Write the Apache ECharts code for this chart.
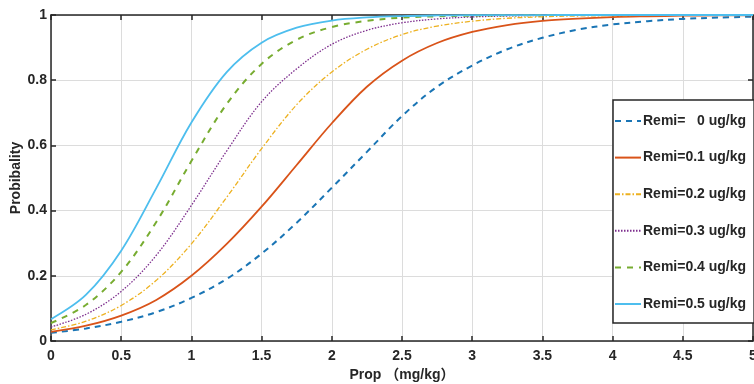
<!DOCTYPE html>
<html>
<head>
<meta charset="utf-8">
<script src="https://cdn.jsdelivr.net/npm/echarts@6/dist/echarts.min.js"></script>
<style>
html,body{margin:0;padding:0;background:#fff;}
#chart{width:754px;height:384px;}
</style>
</head>
<body>
<div id="chart"></div>
<script>
// ---- data ----
var propValues = [0,0.25,0.5,0.75,1,1.25,1.5,1.75,2,2.25,2.5,2.75,3,3.25,3.5,3.75,4,4.25,4.5,4.75,5];
var seriesNames = ['Remi=   0 ug/kg','Remi=0.1 ug/kg','Remi=0.2 ug/kg','Remi=0.3 ug/kg','Remi=0.4 ug/kg','Remi=0.5 ug/kg'];
var remi00 = [0.025,0.0385,0.059,0.0885,0.132,0.190,0.268,0.363,0.470,0.580,0.690,0.780,0.845,0.895,0.930,0.955,0.971,0.981,0.988,0.992,0.995];
var remi01 = [0.028,0.047,0.078,0.126,0.200,0.297,0.412,0.540,0.668,0.780,0.860,0.914,0.948,0.969,0.982,0.989,0.9936,0.996,0.9978,0.9988,0.9993];
var remi02 = [0.034,0.061,0.109,0.186,0.298,0.440,0.590,0.725,0.825,0.895,0.940,0.966,0.981,0.990,0.9945,0.997,0.998,0.999,0.9995,0.9997,0.9998];
var remi03 = [0.043,0.082,0.152,0.263,0.416,0.582,0.734,0.835,0.910,0.953,0.976,0.988,0.994,0.997,0.9986,0.9993,0.9997,0.9998,0.9999,1,1];
var remi04 = [0.055,0.111,0.212,0.365,0.552,0.726,0.850,0.924,0.963,0.982,0.992,0.996,0.998,0.999,0.9996,0.9998,0.9999,1,1,1,1];
var remi05 = [0.067,0.142,0.277,0.469,0.670,0.824,0.915,0.961,0.983,0.9925,0.9967,0.9986,0.9994,0.9997,0.9999,1,1,1,1,1,1];
var xTicks = {min:0, max:5, interval:0.5};
var yTicks = {min:0, max:1, interval:0.2};
var xName = 'Prop （mg/kg）';
var yName = 'Probibality';

// ---- styles ----
var allData = [remi00, remi01, remi02, remi03, remi04, remi05];
var colors = ['#1a75b5','#D95319','#EDB120','#7E2F8E','#77AC30','#4DBEEE'];
var lineTypes = [[6,5],'solid',[5,2,1.5,2],[1.5,1.5],[6,6],'solid'];
var lineWidths = [2,1.8,1.3,1.3,2,1.8];

function pairs(arr){ return propValues.map(function(x,i){ return [x, arr[i]]; }); }

var font = 'Arial, "Liberation Sans", "Noto Sans CJK SC", sans-serif';
var axisColor = '#262626';

var series = allData.map(function(d, i){
  return {
    name: seriesNames[i],
    type: 'line',
    data: pairs(d),
    smooth: 0.35,
    showSymbol: false,
    symbol: 'none',
    color: colors[i],
    lineStyle: {color: colors[i], width: lineWidths[i], type: lineTypes[i]},
    z: 3 + i
  };
});

var chart = echarts.init(document.getElementById('chart'), null, {renderer:'canvas'});
chart.setOption({
  animation: false,
  backgroundColor: '#ffffff',
  grid: {left: 51, right: 1, top: 15, bottom: 43, containLabel: false, outerBoundsMode: 'none'},
  legend: {
    orient: 'vertical',
    left: 613,
    top: 100,
    data: seriesNames,
    itemWidth: 26,
    itemHeight: 14,
    itemGap: 22.6,
    padding: [14, 8, 12, 1],
    borderColor: axisColor,
    borderWidth: 1.5,
    backgroundColor: '#ffffff',
    itemStyle: {opacity: 0},
    textStyle: {fontFamily: font, fontWeight: 'bold', fontSize: 14, color: axisColor, padding: [0,0,0,-3]},
    z: 10
  },
  xAxis: [{
    type: 'value',
    min: xTicks.min, max: xTicks.max, interval: xTicks.interval,
    name: xName, nameLocation: 'middle', nameGap: 27, nameMoveOverlap: false,
    nameTextStyle: {fontFamily: font, fontWeight: 'bold', fontSize: 14, color: axisColor},
    axisLine: {show: true, onZero: false, lineStyle: {color: axisColor, width: 1.5}},
    axisTick: {show: true, inside: true, length: 5, lineStyle: {color: axisColor, width: 1.5}},
    axisLabel: {fontFamily: font, fontWeight: 'bold', fontSize: 14, color: axisColor, margin: 8},
    splitLine: {show: true, lineStyle: {color: '#dcdcdc', width: 1}}
  },{
    type: 'value', position: 'top',
    min: xTicks.min, max: xTicks.max, interval: xTicks.interval,
    axisLine: {show: true, onZero: false, lineStyle: {color: axisColor, width: 1.5}},
    axisTick: {show: true, inside: true, length: 5, lineStyle: {color: axisColor, width: 1.5}},
    axisLabel: {show: false},
    splitLine: {show: false}
  }],
  yAxis: [{
    type: 'value',
    min: yTicks.min, max: yTicks.max, interval: yTicks.interval,
    name: yName, nameLocation: 'middle', nameGap: 28, nameRotate: 90, nameMoveOverlap: false,
    nameTextStyle: {fontFamily: font, fontWeight: 'bold', fontSize: 14, color: axisColor},
    axisLine: {show: true, onZero: false, lineStyle: {color: axisColor, width: 1.5}},
    axisTick: {show: true, inside: true, length: 5, lineStyle: {color: axisColor, width: 1.5}},
    axisLabel: {fontFamily: font, fontWeight: 'bold', fontSize: 14, color: axisColor, margin: 4},
    splitLine: {show: true, lineStyle: {color: '#dcdcdc', width: 1}}
  },{
    type: 'value', position: 'right',
    min: yTicks.min, max: yTicks.max, interval: yTicks.interval,
    axisLine: {show: true, onZero: false, lineStyle: {color: axisColor, width: 1.5}},
    axisTick: {show: true, inside: true, length: 5, lineStyle: {color: axisColor, width: 1.5}},
    axisLabel: {show: false},
    splitLine: {show: false}
  }],
  series: series
});
</script>
</body>
</html>
